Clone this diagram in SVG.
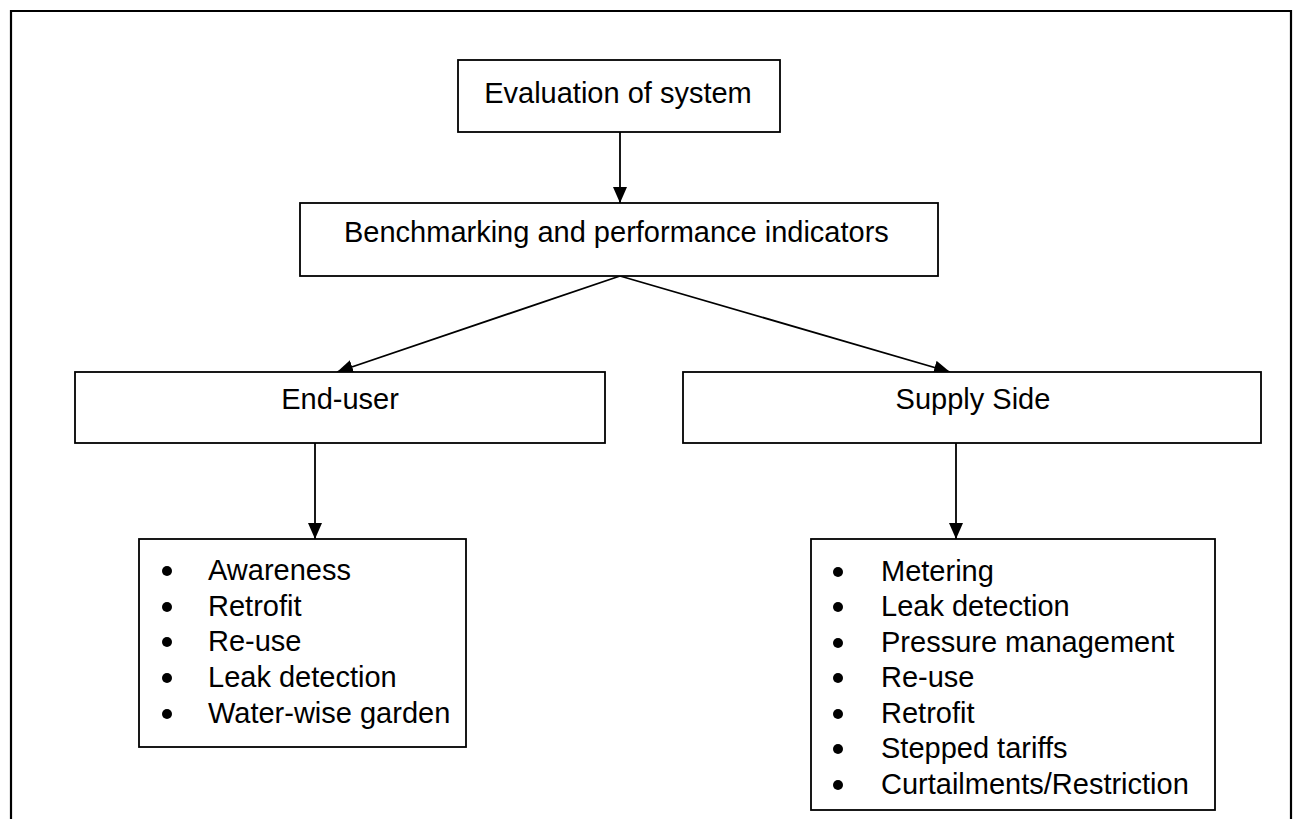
<svg xmlns="http://www.w3.org/2000/svg" width="1298" height="819" viewBox="0 0 1298 819">
  <defs>
    <marker id="arrow" viewBox="0 0 16 14" refX="16" refY="7" markerWidth="16" markerHeight="14" markerUnits="userSpaceOnUse" orient="auto">
      <path d="M0,0 L16,7 L0,14 Z" fill="#000"/>
    </marker>
  </defs>
  <style>
    .frame { fill: none; stroke: #000; stroke-width: 2.2; }
    .box { fill: #fff; stroke: #000; stroke-width: 1.8; }
    .label { font-family: "Liberation Sans", Arial, sans-serif; font-size: 29px; fill: #000; }
    .mid { text-anchor: middle; }
    .bullet { fill: #000; }
    .link { stroke: #000; stroke-width: 1.8; fill: none; marker-end: url(#arrow); }
  </style>

  <rect width="1298" height="819" fill="#fff"/>
  <!-- outer border, open at the bottom edge of the page -->
  <path class="frame" d="M11,830 L11,11 L1291,11 L1291,830"/>

  <g id="connectors">
    <line class="link" x1="620" y1="132" x2="620" y2="203"/>
    <line class="link" x1="620" y1="276" x2="337" y2="372"/>
    <line class="link" x1="620" y1="276" x2="950" y2="372"/>
    <line class="link" x1="315" y1="443" x2="315" y2="539"/>
    <line class="link" x1="956" y1="443" x2="956" y2="539"/>
  </g>

  <g id="evaluation">
    <rect class="box" x="458" y="60" width="322" height="72"/>
    <text class="label mid" x="618" y="103">Evaluation of system</text>
  </g>

  <g id="benchmarking">
    <rect class="box" x="300" y="203" width="638" height="73"/>
    <text class="label" x="344" y="242">Benchmarking and performance indicators</text>
  </g>

  <g id="end-user">
    <rect class="box" x="75" y="372" width="530" height="71"/>
    <text class="label mid" x="340" y="409">End-user</text>
  </g>

  <g id="supply-side">
    <rect class="box" x="683" y="372" width="578" height="71"/>
    <text class="label mid" x="973" y="409">Supply Side</text>
  </g>

  <g id="end-user-measures">
    <rect class="box" x="139" y="539" width="327" height="208"/>
    <circle class="bullet" cx="167" cy="571" r="5"/>
    <circle class="bullet" cx="167" cy="607" r="5"/>
    <circle class="bullet" cx="167" cy="642" r="5"/>
    <circle class="bullet" cx="167" cy="678" r="5"/>
    <circle class="bullet" cx="167" cy="714" r="5"/>
    <text class="label" x="208" y="580">Awareness</text>
    <text class="label" x="208" y="616">Retrofit</text>
    <text class="label" x="208" y="651">Re-use</text>
    <text class="label" x="208" y="687">Leak detection</text>
    <text class="label" x="208" y="723">Water-wise garden</text>
  </g>

  <g id="supply-side-measures">
    <rect class="box" x="811" y="539" width="404" height="271"/>
    <circle class="bullet" cx="838" cy="572" r="5"/>
    <circle class="bullet" cx="838" cy="607" r="5"/>
    <circle class="bullet" cx="838" cy="643" r="5"/>
    <circle class="bullet" cx="838" cy="678" r="5"/>
    <circle class="bullet" cx="838" cy="714" r="5"/>
    <circle class="bullet" cx="838" cy="749" r="5"/>
    <circle class="bullet" cx="838" cy="785" r="5"/>
    <text class="label" x="881" y="581">Metering</text>
    <text class="label" x="881" y="616">Leak detection</text>
    <text class="label" x="881" y="652">Pressure management</text>
    <text class="label" x="881" y="687">Re-use</text>
    <text class="label" x="881" y="723">Retrofit</text>
    <text class="label" x="881" y="758">Stepped tariffs</text>
    <text class="label" x="881" y="794">Curtailments/Restriction</text>
  </g>
</svg>
